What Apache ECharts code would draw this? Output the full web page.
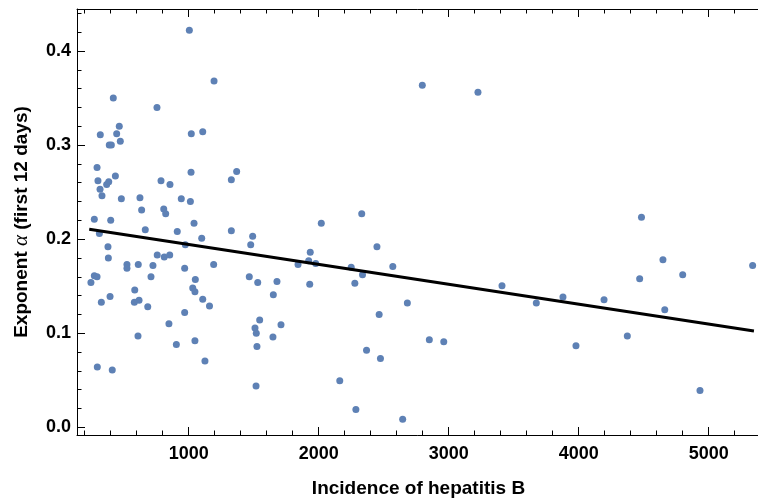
<!DOCTYPE html>
<html>
<head>
<meta charset="utf-8">
<script src="https://cdn.jsdelivr.net/npm/echarts@6/dist/echarts.min.js"></script>
<style>html,body{margin:0;padding:0;background:#fff}#c{width:758px;height:499px}</style>
</head>
<body>
<div id="c"></div>
<script>
// Data
var incidence = [1005,1195,420,756,466,320,446,1020,1108,389,405,474,295,302,385,369,436,318,333,482,274,400,313,379,382,248,274,295,328,395,525,525,612,725,710,585,618,582,625,638,787,856,808,823,666,758,812,854,912,943,1018,1013,1041,1100,974,969,1051,1031,1048,1108,1369,1328,1328,1492,1477,2020,1192,1935,1923,1977,1841,1466,1531,1679,1931,1651,685,969,848,1160,610,905,1048,1125,297,412,1546,1510,1520,1710,1648,1525,1518,2162,2250,2278,2337,2465,2368,2475,2286,2448,2331,2570,2682,2851,2962,2646,2797,3225,4483,3410,3674,3879,3979,4195,4374,4469,4648,4662,4800,4933,5338];
var exponent = [0.422,0.368,0.350,0.340,0.320,0.311,0.312,0.312,0.314,0.300,0.300,0.304,0.276,0.262,0.261,0.258,0.267,0.253,0.246,0.243,0.221,0.220,0.206,0.192,0.180,0.154,0.161,0.160,0.133,0.139,0.173,0.169,0.173,0.172,0.160,0.146,0.135,0.133,0.244,0.231,0.262,0.258,0.232,0.227,0.210,0.183,0.181,0.183,0.208,0.243,0.271,0.240,0.217,0.201,0.194,0.169,0.157,0.148,0.144,0.136,0.272,0.263,0.209,0.203,0.194,0.217,0.173,0.186,0.177,0.174,0.173,0.160,0.154,0.155,0.152,0.141,0.128,0.122,0.110,0.129,0.097,0.088,0.092,0.0705,0.064,0.061,0.114,0.1055,0.100,0.109,0.096,0.086,0.044,0.0495,0.170,0.153,0.162,0.120,0.082,0.073,0.019,0.192,0.227,0.171,0.132,0.093,0.091,0.0085,0.3635,0.356,0.2233,0.1505,0.132,0.1385,0.0867,0.1356,0.097,0.158,0.178,0.125,0.162,0.039,0.172];
// Fitted line end points
var fitX = [235, 5348];
var fitY = [0.2105, 0.1024];
// Tick values
var xMajor = [1000, 2000, 3000, 4000, 5000];
var xMinor = [200,400,600,800,1200,1400,1600,1800,2200,2400,2600,2800,3200,3400,3600,3800,4200,4400,4600,4800,5200];
var yMajor = [0, 0.1, 0.2, 0.3, 0.4];
var yMinor = [0.02,0.04,0.06,0.08,0.12,0.14,0.16,0.18,0.22,0.24,0.26,0.28,0.32,0.34,0.36,0.38,0.42,0.44];

var FONT = 'Liberation Sans, Arial, sans-serif';
var X_MIN = 140.8, X_MAX = 5394.6, Y_MIN = -0.0082, Y_MAX = 0.4446;

function xAx(pos, ticks, len, showLine, showLabel, extra) {
  var a = {
    type: 'value', gridIndex: 0, position: pos, min: X_MIN, max: X_MAX,
    splitLine: {show: false},
    axisLine: {show: showLine, onZero: false, lineStyle: {color: '#000', width: 1}},
    axisTick: {show: true, inside: true, length: len, customValues: ticks, lineStyle: {color: '#000', width: 1}},
    axisLabel: showLabel ? {show: true, customValues: ticks, margin: 10, color: '#000', fontFamily: FONT, fontWeight: 'bold', fontSize: 18,
      formatter: function (v) { return String(Math.round(v)); }} : {show: false}
  };
  return Object.assign(a, extra || {});
}
function yAx(pos, ticks, len, showLine, showLabel, extra) {
  var a = {
    type: 'value', gridIndex: 0, position: pos, min: Y_MIN, max: Y_MAX,
    splitLine: {show: false},
    axisLine: {show: showLine, onZero: false, lineStyle: {color: '#000', width: 1}},
    axisTick: {show: true, inside: true, length: len, customValues: ticks, lineStyle: {color: '#000', width: 1}},
    axisLabel: showLabel ? {show: true, customValues: ticks, margin: 6, color: '#000', fontFamily: FONT, fontWeight: 'bold', fontSize: 18,
      formatter: function (v) { return v.toFixed(1); }} : {show: false}
  };
  return Object.assign(a, extra || {});
}

var chart = echarts.init(document.getElementById('c'), null, {renderer: 'canvas'});
chart.setOption({
  animation: false,
  backgroundColor: '#fff',
  grid: {left: 77, top: 9, right: -2, bottom: 64, containLabel: false, outerBoundsMode: 'none'},
  xAxis: [
    xAx('bottom', xMajor, 8, true, true, {
      name: 'Incidence of hepatitis B', nameLocation: 'middle', nameGap: 44,
      nameTextStyle: {color: '#000', fontFamily: FONT, fontWeight: 'bold', fontSize: 19}
    }),
    xAx('bottom', xMinor, 4.5, false, false),
    xAx('top', xMajor, 8, true, false),
    xAx('top', xMinor, 4.5, false, false)
  ],
  yAxis: [
    yAx('left', yMajor, 8, true, true, {
      name: '{b|Exponent }{i|α}{b| (first 12 days)}', nameLocation: 'middle', nameGap: 45, nameRotate: 90,
      nameTextStyle: {color: '#000', fontFamily: FONT, fontSize: 19,
        rich: {
          b: {color: '#000', fontFamily: FONT, fontWeight: 'bold', fontSize: 19},
          i: {color: '#000', fontFamily: 'Liberation Serif, Times New Roman, serif', fontStyle: 'italic', fontSize: 21}
        }}
    }),
    yAx('left', yMinor, 4.5, false, false)
  ],
  series: [
    {
      type: 'scatter', xAxisIndex: 0, yAxisIndex: 0,
      data: incidence.map(function (v, i) { return [v, exponent[i]]; }),
      symbol: 'circle', symbolSize: 7,
      itemStyle: {color: '#5E81B5', opacity: 1},
      z: 2
    },
    {
      type: 'line', xAxisIndex: 0, yAxisIndex: 0,
      data: fitX.map(function (v, i) { return [v, fitY[i]]; }),
      showSymbol: false, symbol: 'none',
      lineStyle: {color: '#000', width: 3},
      z: 3
    }
  ]
});
</script>
</body>
</html>
